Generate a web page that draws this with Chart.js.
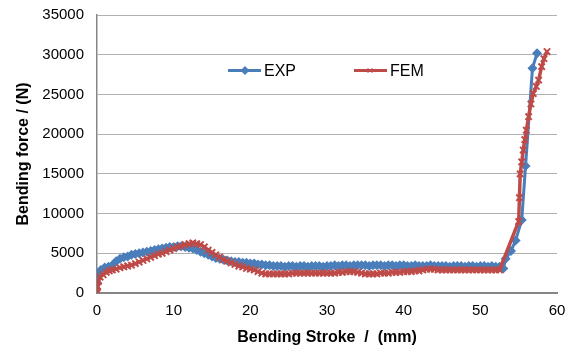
<!DOCTYPE html>
<html>
<head>
<meta charset="utf-8">
<script src="https://cdn.jsdelivr.net/npm/chart.js@4.4.0/dist/chart.umd.min.js"></script>
<style>
  body { margin: 0; background: #fff; }
</style>
</head>
<body>
<canvas id="chart" width="575" height="352"></canvas>
<script>
const expStroke = [0, 0.1, 0.5, 1, 1.5, 2, 2.5, 3, 3.5, 4, 4.5, 5, 5.5, 6, 6.5, 7, 7.5, 8, 8.5, 9, 9.5, 10, 10.5, 11, 11.5, 12, 12.5, 13, 13.5, 14, 14.5, 15, 15.5, 16, 16.5, 17, 17.5, 18, 18.5, 19, 19.5, 20, 20.5, 21, 21.5, 22, 22.5, 23,
  23.5, 24, 24.5, 25, 25.5, 26, 26.5, 27, 27.5, 28, 28.5, 29, 29.5, 30, 30.5, 31, 31.5, 32, 32.5, 33, 33.5, 34, 34.5, 35, 35.5, 36, 36.5, 37, 37.5, 38, 38.5, 39, 39.5, 40, 40.5, 41, 41.5, 42, 42.5, 43, 43.5, 44, 44.5, 45, 45.5, 46, 46.5, 47, 47.5, 48, 48.5, 49, 49.5, 50, 50.5, 51, 51.5, 52, 52.5,
  53.0, 53.3, 54.0, 54.6, 55.4, 55.9, 56.8, 57.4];
const expForce = [1300, 2400, 2900, 3200, 3300, 3500, 4000, 4300, 4500, 4600, 4800, 4900, 5000, 5100, 5200, 5300, 5400, 5500, 5600, 5700, 5800, 5800, 5900, 5900, 5800, 5700, 5600, 5400, 5200, 5000, 4800, 4600, 4400, 4300, 4200, 4100, 4000, 3900, 3900, 3800, 3800, 3700, 3700, 3600, 3600, 3500, 3500, 3400,
  3400, 3400, 3300, 3400, 3400, 3300, 3400, 3400, 3300, 3400, 3400, 3400, 3300, 3400, 3400, 3500, 3400, 3500, 3500, 3400, 3500, 3500, 3500, 3500, 3400, 3500, 3500, 3500, 3400, 3500, 3500, 3400, 3500, 3500, 3400, 3400, 3500, 3400, 3400, 3400, 3500, 3400, 3400, 3400, 3400, 3300, 3400, 3400, 3400, 3300, 3400, 3400, 3300, 3400, 3400, 3300, 3400, 3300, 3300,
  3100, 4300, 5300, 6600, 9200, 16000, 28300, 30200];

const femStroke = [0, 0.1, 0.2, 0.4, 0.8, 1.2, 1.6, 2, 2.5, 3, 3.5, 4, 4.5, 5, 5.5, 6, 6.5, 7, 7.5, 8, 8.5, 9, 9.5, 10, 10.5, 11, 11.5, 12, 12.5, 13, 13.5, 14, 14.5, 15, 15.5, 16, 16.5, 17, 17.5, 18, 18.5, 19, 19.5, 20, 20.5, 21, 21.5, 22, 22.5,
  23, 23.5, 24, 24.5, 25, 25.5, 26, 26.5, 27, 27.5, 28, 28.5, 29, 29.5, 30, 30.5, 31, 31.5, 32, 32.5, 33, 33.5, 34, 34.5, 35, 35.5, 36, 36.5, 37, 37.5, 38, 38.5, 39, 39.5, 40, 40.5, 41, 41.5, 42, 42.5, 43, 43.5, 44, 44.5, 45, 45.5, 46, 46.5, 47, 47.5, 48, 48.5, 49, 49.5, 50, 50.5, 51, 51.5, 52, 52.5,
  55.0, 55.1, 55.2, 55.4, 55.6, 55.8, 56.0, 56.3, 56.6, 56.9, 57.3, 57.6, 58.0, 58.3, 58.7];
const femForce = [0, 800, 1500, 2000, 2300, 2600, 2800, 2900, 3000, 3200, 3300, 3400, 3500, 3700, 3900, 4100, 4300, 4500, 4700, 4900, 5000, 5200, 5400, 5600, 5800, 5900, 6100, 6200, 6300, 6200, 6100, 5800, 5400, 5100, 4800, 4500, 4200, 4000, 3800, 3600, 3400, 3300, 3100, 3000, 2900, 2700, 2500, 2400, 2400,
  2400, 2400, 2400, 2400, 2400, 2500, 2500, 2500, 2500, 2500, 2500, 2500, 2500, 2500, 2500, 2500, 2500, 2600, 2600, 2700, 2700, 2700, 2600, 2500, 2400, 2400, 2400, 2400, 2500, 2500, 2500, 2600, 2600, 2600, 2700, 2700, 2700, 2800, 2800, 2900, 3000, 3000, 3000, 2900, 2900, 2900, 2900, 2900, 2900, 2900, 2900, 2900, 2900, 2900, 2900, 2900, 2900, 2900, 2900, 2900,
  9000, 12000, 15000, 16500, 18000, 19300, 20500, 22200, 23800, 25100, 26000, 26800, 28500, 29500, 30400];

const yTicks = [0, 5000, 10000, 15000, 20000, 25000, 30000, 35000];
const xTicks = [0, 10, 20, 30, 40, 50, 60];

const blue = '#4A7EBB';
const red = '#BE4B48';
const fontFamily = '"Liberation Sans", Arial, sans-serif';

function toPoints(xs, ys) {
  return xs.map((x, i) => ({ x: x, y: ys[i] }));
}

// legend sits inside the plot, Excel style
const inPlotLegend = {
  id: 'inPlotLegend',
  afterDraw(chart) {
    const ctx = chart.ctx;
    const y = 70.5;
    ctx.save();
    // EXP
    ctx.strokeStyle = blue;
    ctx.lineWidth = 3;
    ctx.beginPath(); ctx.moveTo(228, y); ctx.lineTo(261, y); ctx.stroke();
    ctx.fillStyle = blue;
    ctx.beginPath();
    ctx.moveTo(245, y - 4.5); ctx.lineTo(249.5, y); ctx.lineTo(245, y + 4.5); ctx.lineTo(240.5, y);
    ctx.closePath(); ctx.fill();
    // FEM
    ctx.strokeStyle = red;
    ctx.lineWidth = 3;
    ctx.beginPath(); ctx.moveTo(354, y); ctx.lineTo(387, y); ctx.stroke();
    ctx.lineWidth = 1;
    ctx.beginPath();
    ctx.moveTo(367.5, y - 2.5); ctx.lineTo(372.5, y + 2.5);
    ctx.moveTo(372.5, y - 2.5); ctx.lineTo(367.5, y + 2.5);
    ctx.stroke();
    // labels
    ctx.fillStyle = '#000';
    ctx.font = '16px ' + fontFamily;
    ctx.textBaseline = 'middle';
    ctx.fillText('EXP', 264, y + 1);
    ctx.fillText('FEM', 390, y + 1);
    ctx.restore();
  }
};

const ctx = document.getElementById('chart').getContext('2d');
const chart = new Chart(ctx, {
  type: 'line',
  data: {
    datasets: [{
      label: 'EXP',
      data: toPoints(expStroke, expForce),
      borderColor: blue,
      backgroundColor: blue,
      borderWidth: 3,
      pointStyle: 'rectRot',
      pointRadius: 5,
      pointBorderWidth: 0,
      tension: 0,
      order: 1
    }, {
      label: 'FEM',
      data: toPoints(femStroke, femForce),
      borderColor: red,
      backgroundColor: red,
      borderWidth: 3.5,
      pointStyle: 'crossRot',
      pointRadius: 4.5,
      pointBorderWidth: 2,
      pointBorderColor: red,
      tension: 0,
      order: 0
    }]
  },
  options: {
    responsive: false,
    animation: false,
    layout: { padding: { left: 0, top: 15, right: 18, bottom: 0 } },
    plugins: {
      legend: { display: false },
      tooltip: { enabled: false }
    },
    scales: {
      x: {
        type: 'linear',
        min: 0,
        max: 60,
        afterBuildTicks: (scale) => { scale.ticks = xTicks.map(v => ({ value: v })); },
        afterFit: (scale) => { scale.height = 59; },
        grid: { drawOnChartArea: false, drawTicks: false },
        border: { color: '#868686', width: 2 },
        ticks: { color: '#000', padding: 9, font: { family: fontFamily, size: 15 }, callback: (v) => String(v) },
        title: {
          display: true,
          text: 'Bending Stroke  /  (mm)',
          color: '#000',
          font: { family: fontFamily, size: 16, weight: 'bold' },
          padding: { top: 0, bottom: 5 }
        }
      },
      y: {
        min: 0,
        max: 35000,
        afterBuildTicks: (scale) => { scale.ticks = yTicks.map(v => ({ value: v })); },
        afterFit: (scale) => { scale.width = 97; },
        // invisible tick marks keep the labels off the axis without padding the top
        grid: { color: '#b0b0b0', lineWidth: 1, drawTicks: true, tickLength: 13, tickColor: 'rgba(0,0,0,0)' },
        border: { color: '#868686', width: 1.5 },
        ticks: { color: '#000', padding: 0, font: { family: fontFamily, size: 15 }, callback: (v) => String(v) },
        title: {
          display: true,
          text: 'Bending force / (N)',
          color: '#000',
          font: { family: fontFamily, size: 16, weight: 'bold' },
          padding: { top: 14, bottom: 0 }
        }
      }
    }
  },
  plugins: [inPlotLegend]
});
</script>
</body>
</html>
